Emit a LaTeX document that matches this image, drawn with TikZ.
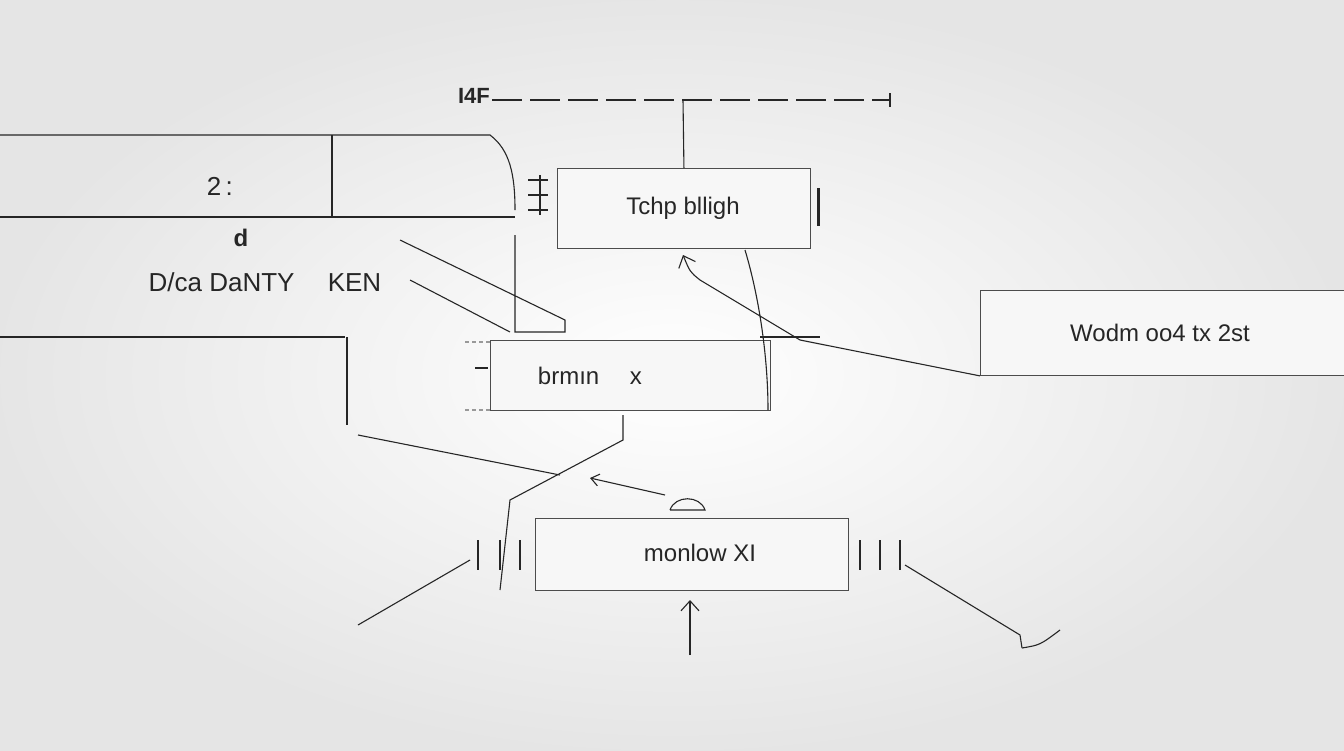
\documentclass[tikz,border=0pt]{standalone}
\usepackage{fontspec}
\setmainfont{Liberation Sans}
\usetikzlibrary{arrows.meta}
\begin{document}
\begin{tikzpicture}[x=1pt,y=-1pt,
  ln/.style={line width=1.1pt,black!85},
  bx/.style={draw=black!70,line width=0.9pt,fill=white!97!black},
  lbl/.style={font=\fontsize{24}{26}\selectfont,text=black!85}]
\useasboundingbox (0,0) rectangle (1344,750);
\shade[inner color=white,outer color=black!10] (0,0) rectangle (1344,750);
% top dashed
\node[lbl,font=\fontsize{22}{24}\selectfont\bfseries] (i4f) at (474,96) {I4F};
\coordinate (dA) at (492,100); \coordinate (dB) at (890,100);
\draw[ln,dash pattern=on 30pt off 8pt] (dA) -- (dB);
\draw[ln] (dB) ++(0,-7) -- ++(0,14);
\coordinate (vt) at (683,100);
% box 1
\node[bx,minimum width=253,minimum height=80,anchor=north west] (b1) at (557,168) {};
\node[lbl] at (683,208) {Tchp blligh};
\draw[ln] (vt) -- (b1.north);
\draw[ln,line width=3pt] (818,188) -- (818,226);
\foreach \y in {180,195,210}{\draw[ln] (528,\y) -- (548,\y);}
\draw[ln] (540,175) -- (540,215);
% left panel
\coordinate (l1) at (0,135); \coordinate (l2) at (490,135);
\draw[ln] (l1) -- (l2) .. controls (510,150) and (515,175) .. (515,210);
\draw[ln] (0,217) -- (515,217);
\draw[ln] (332,135) -- (332,217);
\node[lbl,font=\fontsize{26}{28}\selectfont] at (222,186) {2\,:\,};
\node[lbl,font=\fontsize{24}{26}\selectfont\bfseries] at (241,238) {d};
\node[lbl,font=\fontsize{26}{28}\selectfont] at (265,282) {D/ca DaNTY \quad KEN};
\draw[ln] (0,337) -- (345,337);
\draw[ln,line width=2pt] (347,337) -- (347,425);
\draw[ln] (515,235) -- (515,332) -- (565,332) -- (565,320) -- (400,240);
\draw[ln] (410,280) -- (510,332);
% box 2
\node[bx,minimum width=280,minimum height=70,anchor=north west] (b2) at (490,340) {};
\node[lbl] at (590,376) {brmın \quad x};
\draw[ln,dash pattern=on 4pt off 3pt,black!40] (465,342) -- (490,342) (465,410) -- (490,410);
\draw[ln] (475,368) -- (488,368);
\draw[ln] (745,250) .. controls (760,300) and (768,360) .. (768,410);
\draw[ln,-{Straight Barb[length=10pt,width=18pt]}] (800,340) -- (700,280) .. controls (690,272) .. (683,255);
\draw[ln] (760,337) -- (820,337);
% box 3
\node[bx,minimum width=364,minimum height=85,anchor=north west] (b3) at (980,290) {};
\node[lbl] at (1160,333) {Wodm oo4 tx 2st};
\draw[ln] (800,340) -- (b3.south west);
% lines
\draw[ln] (358,435) -- (560,475);
\draw[ln] (623,415) -- (623,440) -- (510,500) -- (500,590);
\draw[ln,-{Straight Barb[length=8pt,width=12pt]}] (665,495) -- (590,478);
\draw[ln] (670,510) .. controls (675,495) and (700,495) .. (705,510) -- (670,510);
% box 4
\node[bx,minimum width=313,minimum height=72,anchor=north west] (b4) at (535,518) {};
\node[lbl] at (700,553) {monlow XI};
\foreach \x in {478,500,520}{\draw[ln] (\x,540) -- (\x,570);}
\foreach \x in {860,880,900}{\draw[ln] (\x,540) -- (\x,570);}
\draw[ln] (470,560) -- (358,625);
\coordinate (up) at (690,655);
\draw[ln,-{Straight Barb[length=10pt,width=18pt]}] (up) -- (690,600);
\draw[ln] (905,565) -- (1020,635) -- (1022,648) (1022,648) .. controls (1040,645) .. (1060,630);
\end{tikzpicture}
\end{document}
